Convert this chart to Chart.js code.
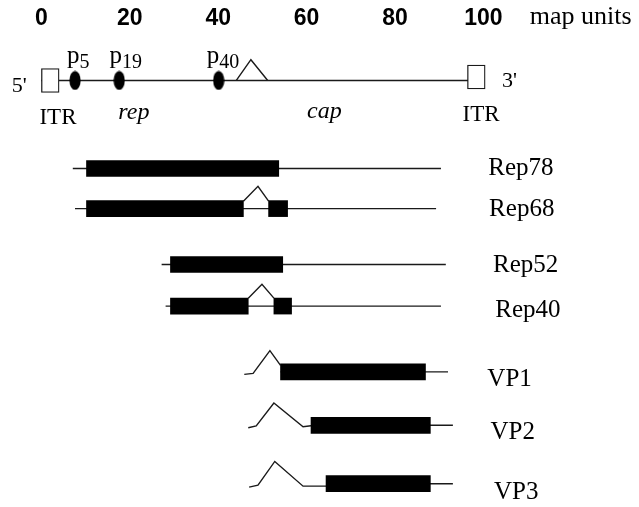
<!DOCTYPE html>
<html>
<head>
<meta charset="utf-8">
<script src="https://cdn.jsdelivr.net/npm/chart.js@4.4.0/dist/chart.umd.min.js"></script>
<style>
  html, body { margin: 0; padding: 0; background: #fff; }
</style>
</head>
<body>
<canvas id="aavMap" width="639" height="507"></canvas>
<script>
// map units along the genome (x), lanes are track positions (y, top to bottom)
const mapTicks = [0, 20, 40, 60, 80, 100];

const transcripts = ['Rep78', 'Rep68', 'Rep52', 'Rep40', 'VP1', 'VP2', 'VP3'];
const lanes = [17.0, 21.05, 26.7, 30.9, 37.55, 42.95, 48.85];
const lineStart = [7.1, 7.6, 27.2, 28.1, 54.1, 61.0, 64.4];
const lineEnd = [90.4, 89.3, 91.5, 90.4, 92.0, 93.1, 93.1];

// coding blocks (row index into transcripts)
const exonRow = [0, 1, 1, 2, 3, 3, 4, 5, 6];
const exonStart = [10.2, 10.2, 51.4, 29.2, 29.2, 52.6, 54.1, 61.0, 64.4];
const exonEnd = [53.7, 45.7, 55.7, 54.6, 46.8, 56.6, 86.9, 88.0, 88.0];

// spliced-out pieces drawn as carets [x, y]
const spliceRep68 = [[45.7, 20.3], [49.0, 18.8], [51.4, 20.3]];
const spliceRep40 = [[46.8, 30.1], [49.9, 28.7], [52.6, 30.1]];
const leadVP1 = [[45.9, 37.8], [47.9, 37.7], [51.7, 35.4], [54.1, 36.9]];
const leadVP2 = [[46.8, 43.2], [48.6, 43.0], [52.6, 40.7], [59.2, 43.1], [61.0, 43.0]];
const leadVP3 = [[47.0, 49.2], [49.0, 49.0], [52.8, 46.6], [59.2, 49.1], [64.4, 49.1]];

// genome
const genomeLane = 8.1;
const genomeEnds = [0, 98];
const itrStart = [0, 96.4];
const itrEnd = [4.0, 100.4];
const itrLane = [8.1, 7.75];
const promoters = ['5', '19', '40'];
const promoterAt = [7.6, 17.6, 40.1];
const genomeSplice = [[44.1, 8.1], [47.4, 6.0], [51.2, 8.1]];

const serif = '"Times New Roman", "Liberation Serif", serif';
const ink = '#1a1a1a';

function pts(list) {
  return list.map(p => ({ x: p[0], y: p[1] }));
}

function lineSet(data) {
  return {
    type: 'line',
    data: data,
    borderColor: ink,
    borderWidth: 1.4,
    pointRadius: 0,
    tension: 0,
    fill: false,
    order: 3
  };
}

// black ellipse for promoters
const dot = document.createElement('canvas');
dot.width = 12;
dot.height = 20;
const dctx = dot.getContext('2d');
dctx.fillStyle = '#000';
dctx.beginPath();
dctx.ellipse(6, 10, 5.6, 9.6, 0, 0, Math.PI * 2);
dctx.fill();

const datasets = [];

datasets.push(lineSet([{ x: genomeEnds[0], y: genomeLane }, { x: genomeEnds[1], y: genomeLane }]));
datasets.push(lineSet(pts(genomeSplice)));

transcripts.forEach((name, i) => {
  datasets.push(lineSet([{ x: lineStart[i], y: lanes[i] }, { x: lineEnd[i], y: lanes[i] }]));
});
[spliceRep68, spliceRep40, leadVP1, leadVP2, leadVP3].forEach(s => datasets.push(lineSet(pts(s))));

datasets.push({
  type: 'bar',
  indexAxis: 'y',
  stack: 'lanes',
  data: exonRow.map((r, i) => ({ x: [exonStart[i], exonEnd[i]], y: lanes[r] })),
  backgroundColor: '#000',
  borderWidth: 0,
  barThickness: 16,
  order: 1
});

datasets.push({
  type: 'bar',
  indexAxis: 'y',
  stack: 'lanes',
  data: itrStart.map((s, i) => ({ x: [s, itrEnd[i]], y: itrLane[i] })),
  backgroundColor: '#fff',
  borderColor: ink,
  borderWidth: 1.3,
  borderSkipped: false,
  barThickness: 24,
  order: 0
});

datasets.push({
  type: 'line',
  data: promoterAt.map(v => ({ x: v, y: genomeLane })),
  showLine: false,
  pointStyle: dot,
  order: 0
});

const labelPlugin = {
  id: 'mapLabels',
  afterDraw(chart) {
    const { ctx } = chart;
    const x = chart.scales.x;
    const y = chart.scales.y;
    const put = (text, u, v, font) => {
      ctx.font = font;
      ctx.fillText(text, x.getPixelForValue(u), y.getPixelForValue(v));
    };
    ctx.save();
    ctx.fillStyle = '#000';
    ctx.textAlign = 'left';
    ctx.textBaseline = 'alphabetic';

    put('map units', 110.5, 2.4, '26px ' + serif);

    // transcript names
    const nameX = [101.1, 101.3, 102.2, 102.7, 100.9, 101.6, 102.4];
    const nameY = [17.7, 21.8, 27.45, 32.0, 39.0, 44.3, 50.35];
    transcripts.forEach((t, i) => put(t, nameX[i], nameY[i], '25px ' + serif));

    // genome annotations
    put("5'", -6.7, 9.3, '22px ' + serif);
    put("3'", 104.2, 8.8, '22px ' + serif);
    put('ITR', -0.45, 12.5, '23px ' + serif);
    put('ITR', 95.3, 12.2, '23px ' + serif);
    put('rep', 17.4, 12.0, 'italic 24px ' + serif);
    put('cap', 60.1, 11.9, 'italic 24px ' + serif);

    const pX = [5.8, 15.4, 37.4];
    promoters.forEach((sub, i) => {
      ctx.font = '25px ' + serif;
      const px = x.getPixelForValue(pX[i]);
      ctx.fillText('p', px, y.getPixelForValue(6.3));
      const w = ctx.measureText('p').width;
      ctx.font = '20px ' + serif;
      ctx.fillText(sub, px + w, y.getPixelForValue(6.85));
    });
    ctx.restore();
  }
};

new Chart(document.getElementById('aavMap'), {
  type: 'bar',
  data: { datasets: datasets },
  plugins: [labelPlugin],
  options: {
    responsive: false,
    animation: false,
    events: [],
    layout: { padding: 0 },
    plugins: {
      legend: { display: false },
      tooltip: { enabled: false }
    },
    scales: {
      x: {
        type: 'linear',
        position: 'top',
        min: -8.24,
        max: 134.08,
        offset: false,
        stacked: false,
        grid: { display: false, drawTicks: false },
        border: { display: false },
        afterBuildTicks: (scale) => {
          scale.ticks = mapTicks.map(v => ({ value: v }));
        },
        afterFit: (scale) => {
          scale.height = 30;
        },
        ticks: {
          padding: -2,
          autoSkip: false,
          maxRotation: 0,
          color: '#000',
          font: { family: 'Arial, "Liberation Sans", sans-serif', size: 23, weight: 'bold' }
        }
      },
      y: {
        type: 'linear',
        display: false,
        reverse: true,
        min: 3.0,
        max: 50.7,
        offset: false
      }
    }
  }
});
</script>
</body>
</html>
